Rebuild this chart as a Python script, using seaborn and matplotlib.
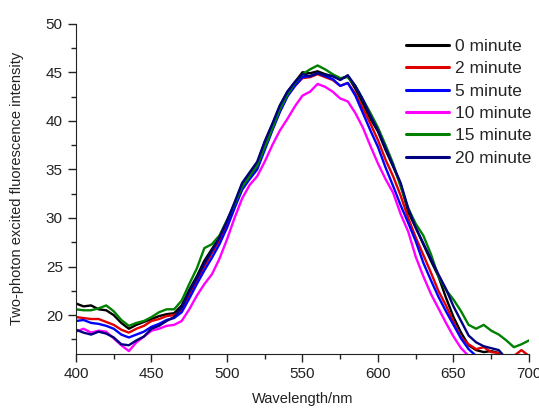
import numpy as np
import pandas as pd
import matplotlib
matplotlib.use("Agg")
import matplotlib.pyplot as plt
import seaborn as sns

wavelength = list(range(400, 701, 5))

min0 = [21.2, 20.9, 21.0, 20.6, 20.5, 20.0, 19.2, 18.6, 19.0, 19.3, 19.6, 19.9, 20.1, 20.2, 21.0,
        22.6, 24.0, 25.6, 26.8, 28.0, 29.6, 31.5, 33.5, 34.6, 35.6, 37.8, 39.6, 41.5, 43.0, 44.0,
        45.0, 44.9, 45.1, 44.8, 44.6, 44.3, 44.6, 43.3, 41.8, 40.2, 38.9, 37.0, 35.3, 33.5, 30.6,
        29.0, 27.3, 25.6, 24.0, 21.8, 19.8, 18.2, 16.9, 16.4, 16.2, 16.3, 16.1, 15.5, 15.2, 15.0, 14.8]
min2 = [19.8, 19.7, 19.6, 19.6, 19.3, 19.0, 18.5, 18.2, 18.6, 18.9, 19.4, 19.6, 19.9, 20.0, 20.5,
        22.0, 23.6, 25.0, 26.4, 27.7, 29.3, 31.2, 33.0, 34.2, 35.3, 37.3, 39.2, 41.0, 42.6, 43.6,
        44.4, 44.5, 44.8, 44.5, 44.2, 43.6, 43.9, 42.8, 41.3, 39.7, 38.0, 36.0, 34.3, 32.3, 30.0,
        28.0, 26.2, 24.4, 22.5, 21.0, 19.3, 17.7, 17.0, 16.5, 16.7, 16.2, 16.1, 15.6, 15.8, 16.4, 15.8]
min5 = [19.4, 19.5, 19.2, 19.1, 18.9, 18.6, 18.0, 17.7, 18.0, 18.3, 18.8, 19.1, 19.5, 19.7, 20.3,
        21.7, 23.2, 24.6, 25.9, 27.3, 29.0, 31.0, 32.9, 34.0, 35.0, 37.0, 39.0, 40.9, 42.5, 43.6,
        44.5, 44.6, 44.9, 44.6, 44.3, 43.6, 43.9, 42.6, 40.8, 39.0, 37.3, 35.2, 33.3, 31.3, 29.5,
        27.6, 25.4, 23.6, 21.9, 20.4, 19.0, 17.6, 16.5, 15.8, 15.3, 15.0, 14.8, 14.6, 14.5, 14.4, 14.3]
min10 = [18.3, 18.6, 18.2, 18.4, 18.3, 17.6, 16.9, 16.3, 17.2, 17.8, 18.4, 18.6, 18.9, 19.0, 19.4,
         20.6, 22.0, 23.2, 24.2, 25.8, 27.8, 30.0, 32.0, 33.4, 34.3, 35.8, 37.5, 39.0, 40.2, 41.5,
         42.6, 43.0, 43.8, 43.5, 43.0, 42.3, 42.0, 40.8, 39.3, 37.4, 35.6, 34.0, 32.6, 30.4, 28.6,
         26.0, 24.0, 22.2, 20.7, 19.2, 17.8, 16.6, 15.8, 15.2, 14.9, 14.7, 14.5, 14.4, 14.3, 14.2, 14.1]
min15 = [20.6, 20.5, 20.5, 20.7, 21.0, 20.4, 19.5, 18.9, 19.2, 19.4, 19.8, 20.3, 20.6, 20.6, 21.5,
         23.2, 24.8, 26.9, 27.3, 28.2, 29.8, 31.4, 33.2, 34.3, 35.4, 37.3, 39.2, 41.2, 42.7, 43.9,
         44.8, 45.3, 45.7, 45.3, 44.8, 44.4, 44.5, 43.6, 42.2, 40.8, 39.3, 37.5, 35.6, 33.2, 31.0,
         29.4, 28.2, 26.3, 24.0, 22.6, 21.6, 20.4, 19.0, 18.6, 19.0, 18.4, 18.0, 17.4, 16.7, 17.0, 17.4]
min20 = [18.5, 18.2, 18.0, 18.3, 18.1, 17.7, 17.0, 16.9, 17.4, 17.8, 18.6, 18.9, 19.4, 19.8, 20.8,
         22.4, 23.8, 25.3, 26.6, 28.0, 29.7, 31.6, 33.6, 34.7, 35.8, 37.9, 39.7, 41.6, 43.0, 44.0,
         44.8, 44.6, 44.9, 44.7, 44.6, 44.2, 44.7, 43.6, 42.2, 40.5, 39.0, 37.2, 35.4, 33.6, 31.0,
         29.0, 27.4, 25.8, 24.2, 22.7, 20.9, 19.4, 17.9, 17.2, 16.8, 16.6, 16.4, 15.5, 15.0, 14.8, 14.6]

labels = ["0 minute", "2 minute", "5 minute", "10 minute", "15 minute", "20 minute"]
colors = ["#000000", "#e00000", "#0000ff", "#ff00ff", "#008000", "#000080"]
series = [min0, min2, min5, min10, min15, min20]

frames = []
for lab, vals in zip(labels, series):
    frames.append(pd.DataFrame({"Wavelength": wavelength, "Intensity": vals, "Series": lab}))
df = pd.concat(frames, ignore_index=True)

sns.set_style("ticks")
plt.rcParams['font.family'] = ['Liberation Sans', 'DejaVu Sans']

fig = plt.figure(figsize=(5.39, 4.08), dpi=100)
ax = fig.add_axes([76/539, (408-354)/408, (529-76)/539, (354-23.7)/408])

sns.lineplot(data=df, x="Wavelength", y="Intensity", hue="Series",
             palette=dict(zip(labels, colors)), hue_order=labels,
             linewidth=1.7, ax=ax, legend=True)

ax.set_xlim(400, 700)
ax.set_ylim(16, 50)
ax.set_xticks([400, 450, 500, 550, 600, 650, 700])
ax.set_xticks(list(range(425, 700, 50)), minor=True)
ax.set_yticks([20, 25, 30, 35, 40, 45, 50])
ax.set_yticks([17.5, 22.5, 27.5, 32.5, 37.5, 42.5, 47.5], minor=True)
ax.tick_params(axis="both", which="major", labelsize=11, length=6, width=1, direction="out", colors="#222222")
ax.tick_params(axis="both", which="minor", length=3.5, width=1, direction="out", colors="#222222")
for lab in ax.get_xticklabels() + ax.get_yticklabels():
    lab.set_color("#222222")
ax.spines["top"].set_visible(False)
ax.spines["right"].set_visible(False)
ax.spines["left"].set_color("#222222")
ax.spines["bottom"].set_color("#222222")
ax.set_xlabel("Wavelength/nm", fontsize=10.5, color="#222222", labelpad=8)
ax.set_ylabel("Two-photon excited fluorescence intensity", fontsize=10.5, color="#222222", labelpad=16)

leg = ax.legend(loc="upper left", bbox_to_anchor=((406-76)/453, 0.955), frameon=False,
                fontsize=12.5, handlelength=2.5, handletextpad=0.3, labelspacing=0.42,
                borderaxespad=0, borderpad=0)
for line in leg.get_lines():
    line.set_linewidth(2.2)

fig.savefig("out.png", dpi=100)
